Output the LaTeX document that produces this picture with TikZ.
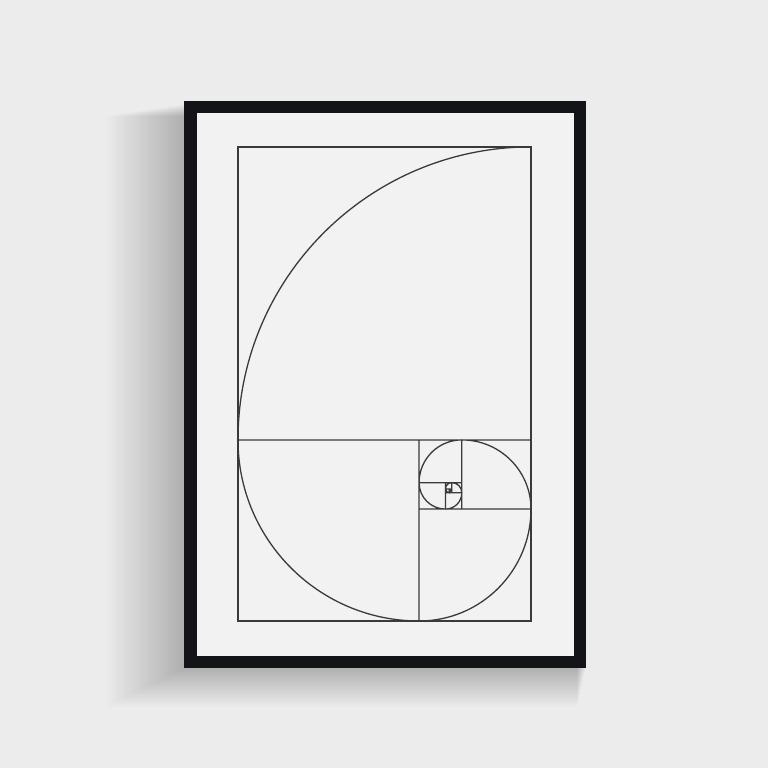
\documentclass[tikz,border=0pt]{standalone}
\usetikzlibrary{positioning}

\definecolor{wall}{RGB}{236,236,236}
\definecolor{mat}{RGB}{242,242,242}
\definecolor{framecol}{RGB}{18,20,24}
\definecolor{inkcol}{RGB}{58,58,58}

\begin{document}
\begin{tikzpicture}[x=1pt,y=1pt,frame/.style={fill=framecol},paper/.style={fill=mat},ink/.style={draw=inkcol,line width=1.3pt,line join=miter},shade/.style={fill=black,fill opacity=0.008}]
\fill[wall] (0,0) rectangle (768,768);
\useasboundingbox (0,0) rectangle (768,768);
% soft shadow on the wall, to the left and below
\foreach \k in {1,...,30} {
  \fill[shade] ({184-2.6*\k},{100-1.3*\k}) rectangle ({586-0.3*\k},{664-0.4*\k});
}
\fill[frame] (184,100) rectangle (586,667);
\fill[paper] (197,112) rectangle (574,655);
% golden rectangle
\coordinate (lowleft) at (238,147);
\coordinate (upright) at (531,621.08);
\draw[ink] (lowleft) rectangle (upright);
% spiral, with the side of each square back to its centre
\draw[ink] (upright) \foreach \i in {0,...,10} {
  arc[start angle={90+90*\i}, delta angle=90, radius={293pt/1.618034^\i}]
  -- ++({-293/1.618034^\i*cos(180+90*\i)},{-293/1.618034^\i*sin(180+90*\i)})
  ++({293/1.618034^\i*cos(180+90*\i)},{293/1.618034^\i*sin(180+90*\i)})
};
\end{tikzpicture}
\end{document}
